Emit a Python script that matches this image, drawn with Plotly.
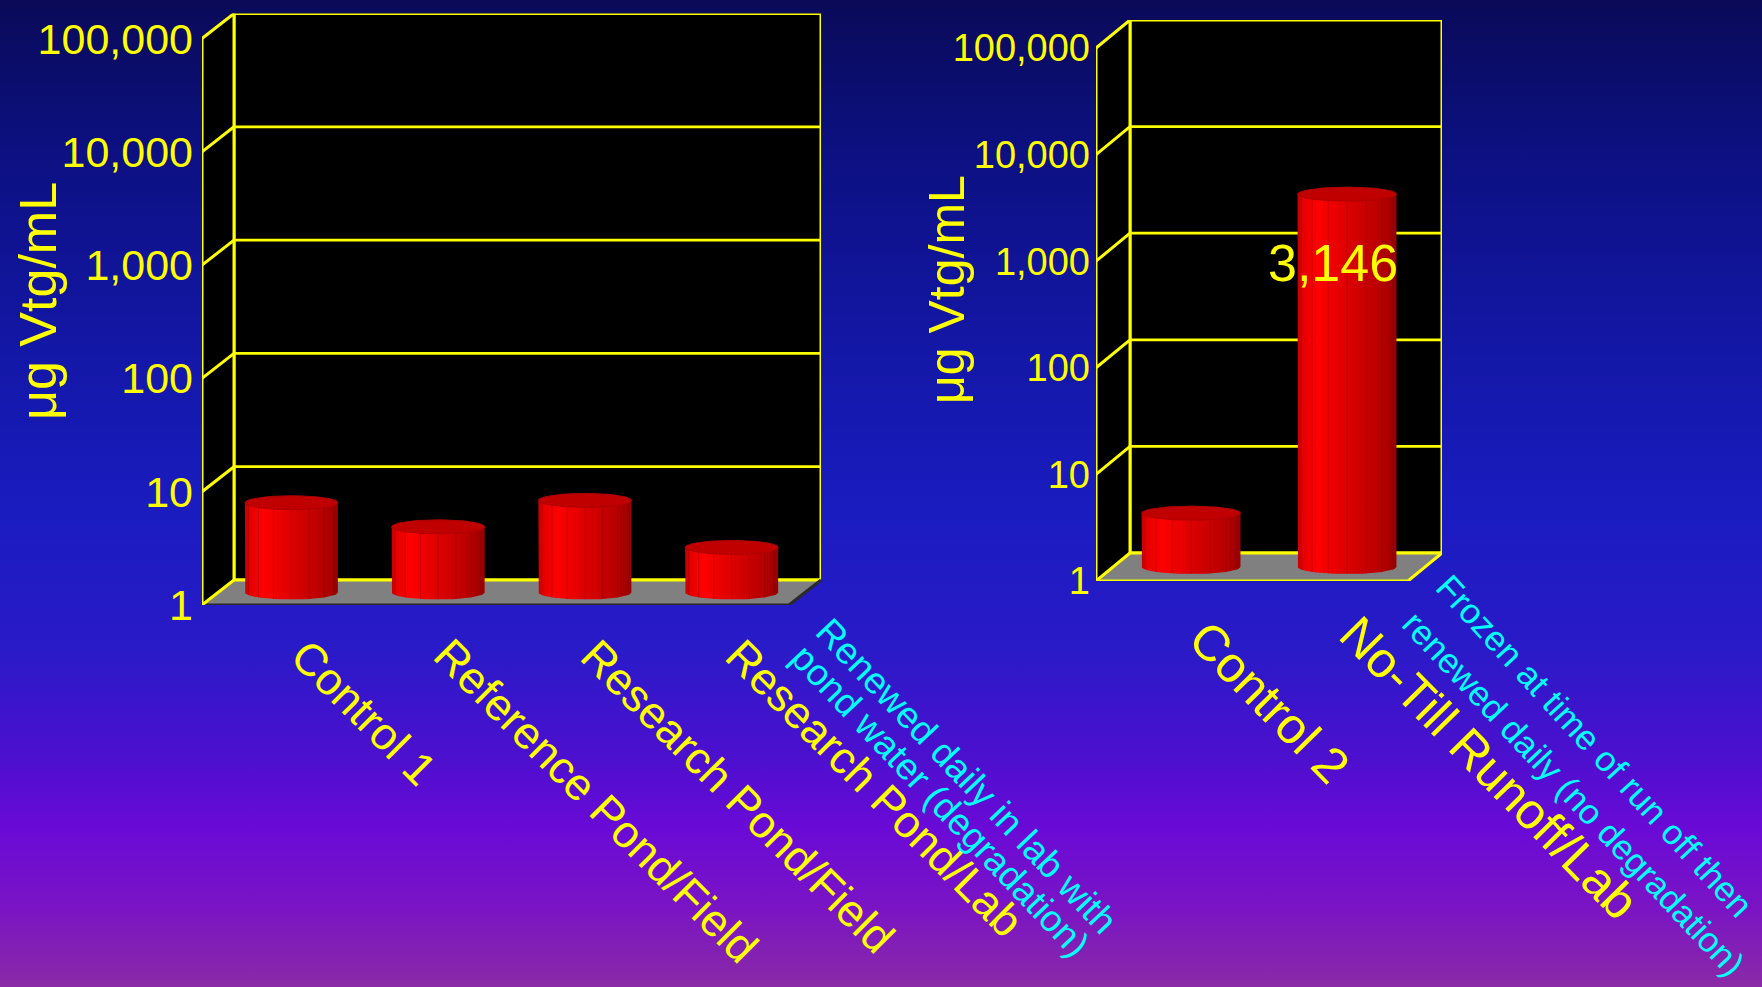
import numpy as np
import plotly.graph_objects as go

W, H = 1762, 987
FONT = "Liberation Sans, Arial, sans-serif"
YELLOW = "#ffff00"
CYAN = "#00ffff"

# ---- data -------------------------------------------------------------
left_categories = ["Control 1", "Reference Pond/Field", "Research Pond/Field", "Research Pond/Lab"]
left_values = [6.2, 3.8, 6.5, 2.5]
right_categories = ["Control 2", "No-Till Runoff/Lab"]
right_values = [3.2, 3146]
tick_values = [1, 10, 100, 1000, 10000, 100000]
tick_labels = ["1", "10", "100", "1,000", "10,000", "100,000"]
left_note = ["Renewed daily in lab with", "pond water (degradation)"]
right_note = ["Frozen at time of run off then", "renewed daily (no degradation)"]
y_title = "μg Vtg/mL"

# ---- panel geometry (pixels) -------------------------------------------
panels = [
    dict(cats=left_categories, vals=left_values, x0=202, floor=605, cat_px=146.75,
         dec_px=113.3, dx=32, dy=25, back="2", front="3", mid="4",
         tick_size=43, standoff=8, floor_edge="#2a2a2a"),
    dict(cats=right_categories, vals=right_values, x0=1096, floor=581, cat_px=156,
         dec_px=106.6, dx=34, dy=28, back="5", front="6", mid="7",
         tick_size=38, standoff=5, floor_edge=YELLOW),
]

SIDE_SCALE = [[0, "#c40000"], [0.05, "#e40000"], [0.2, "#ff0000"], [0.55, "#d80000"],
              [0.85, "#b60000"], [1, "#980000"]]
TOP_COLOR = "#c00000"
BG_SCALE = [[0.0, "#8a2aa6"], [0.08, "#7a14c4"], [0.16, "#6a0ad6"], [0.24, "#4a10ce"],
            [0.34, "#2a1ac8"], [0.48, "#1a1cc0"], [0.68, "#1216a0"], [0.85, "#0c1080"],
            [1.0, "#0a0a58"]]

fig = go.Figure()
layout_axes = {}

# background gradient on a full-page axis pair
layout_axes["xaxis"] = dict(domain=[0, 1], range=[0, 1], visible=False, fixedrange=True)
layout_axes["yaxis"] = dict(domain=[0, 1], range=[0, 1], visible=False, fixedrange=True)
fig.add_trace(go.Scatter(x=[0, 1, 1, 0, 0], y=[0, 0, 1, 1, 0], mode="lines", fill="toself",
                         fillgradient=dict(type="vertical", colorscale=BG_SCALE, start=0, stop=1),
                         line=dict(width=0), hoverinfo="skip", showlegend=False,
                         xaxis="x", yaxis="y"))


def line(xs, ys, xa, ya, color, width):
    fig.add_trace(go.Scatter(x=xs, y=ys, mode="lines", line=dict(color=color, width=width),
                             hoverinfo="skip", showlegend=False, xaxis=xa, yaxis=ya))


def poly(xs, ys, xa, ya, color=None, gradient=None, lw=0, lc=None):
    kw = dict(fillgradient=gradient) if gradient else dict(fillcolor=color)
    fig.add_trace(go.Scatter(x=xs, y=ys, mode="lines", fill="toself",
                             line=dict(width=lw, color=lc or "rgba(0,0,0,0)"),
                             hoverinfo="skip", showlegend=False, xaxis=xa, yaxis=ya, **kw))


for p in panels:
    n = len(p["cats"])
    DX = p["dx"] / p["cat_px"]          # depth offset, category units
    DY = p["dy"] / p["dec_px"]          # depth offset, decades
    top_log = np.log10(tick_values[-1])
    width_px = n * p["cat_px"] + p["dx"]
    height_px = top_log * p["dec_px"] + p["dy"]
    xdom = [p["x0"] / W, (p["x0"] + width_px) / W]
    ydom = [1 - p["floor"] / H, 1 - (p["floor"] - height_px) / H]
    b, f, m = p["back"], p["front"], p["mid"]

    # back plane (base), front plane and mid plane share the box, shifted by depth
    layout_axes["xaxis" + b] = dict(domain=xdom, range=[-0.5 - DX, n - 0.5], visible=False,
                                    anchor="y" + b, fixedrange=True)
    layout_axes["yaxis" + b] = dict(domain=ydom, type="log", range=[-DY, top_log], visible=False,
                                    anchor="x" + b, fixedrange=True)
    layout_axes["xaxis" + f] = dict(domain=xdom, range=[-0.5, n - 0.5 + DX], visible=False,
                                    anchor="y" + f, overlaying="x" + b, fixedrange=True)
    layout_axes["yaxis" + f] = dict(domain=ydom, type="log", range=[0, top_log + DY],
                                    anchor="x" + f, overlaying="y" + b, fixedrange=True,
                                    tickvals=tick_values, ticktext=tick_labels, ticks="",
                                    ticklabelstandoff=p["standoff"], automargin=False,
                                    tickfont=dict(family=FONT, size=p["tick_size"], color=YELLOW),
                                    showgrid=False, zeroline=False, showline=False)
    layout_axes["xaxis" + m] = dict(domain=xdom, range=[-0.5 - DX / 2, n - 0.5 + DX / 2],
                                    visible=False, anchor="y" + m, overlaying="x" + b,
                                    fixedrange=True)
    layout_axes["yaxis" + m] = dict(domain=ydom, type="log", range=[-DY / 2, top_log + DY / 2],
                                    visible=False, anchor="x" + m, overlaying="y" + b,
                                    fixedrange=True)

    xb, yb = "x" + b, "y" + b
    xf, yf = "x" + f, "y" + f
    xm, ym = "x" + m, "y" + m

    # back wall with grid
    poly([-0.5, n - 0.5, n - 0.5, -0.5, -0.5], [1, 1, 1e5, 1e5, 1], xb, yb,
         color="#000000", lw=3, lc=YELLOW)
    gx, gy = [], []
    for v in tick_values[1:-1]:
        gx += [-0.5, n - 0.5, None]
        gy += [v, v, None]
    line(gx, gy, xb, yb, YELLOW, 2.8)

    # side wall and floor (front-plane coordinates)
    sh = 10 ** DY
    poly([-0.5, -0.5, -0.5 + DX, -0.5 + DX, -0.5],
         [1, 1e5, 1e5 * sh, sh, 1], xf, yf, color="#000000")
    poly([-0.5, n - 0.5, n - 0.5 + DX, -0.5 + DX, -0.5], [1, 1, sh, sh, 1], xf, yf,
         color="#808080")
    line([-0.5 + DX, n - 0.5 + DX], [sh, sh], xf, yf, YELLOW, 3)
    line([-0.5 + DX, -0.5 + DX], [sh, 1e5 * sh], xf, yf, YELLOW, 3)
    line([-0.5, n - 0.5, n - 0.5 + DX], [1, 1, sh], xf, yf, p["floor_edge"], 3)
    dxs, dys = [], []
    for v in tick_values:
        dxs += [-0.5, -0.5 + DX, None]
        dys += [v, v * sh, None]
    line(dxs, dys, xf, yf, YELLOW, 3)
    line([-0.5, -0.5], [1, 1e5], xf, yf, YELLOW, 3)

    # cylinders on the mid plane
    a = 0.317
    ry = 7.0 / p["dec_px"]
    t_front = np.linspace(np.pi, 2 * np.pi, 49)
    t_full = np.linspace(0, 2 * np.pi, 97)
    for i, v in enumerate(p["vals"]):
        bx = [i - a] + list(i + a * np.cos(t_front)) + [i + a, i - a]
        by = [v] + list(10 ** (ry * np.sin(t_front))) + [v, v]
        poly(bx, by, xm, ym,
             gradient=dict(type="horizontal", colorscale=SIDE_SCALE, start=i - a, stop=i + a))
        fx, fy = [], []
        for k in range(1, 8):
            th = np.pi + k * np.pi / 8
            off = 10 ** (ry * np.sin(th))
            fx += [i + a * np.cos(th), i + a * np.cos(th), None]
            fy += [off, v * off, None]
        line(fx, fy, xm, ym, "rgba(120,0,0,0.35)", 1)
        poly(list(i + a * np.cos(t_full)), list(v * 10 ** (ry * np.sin(t_full))), xm, ym,
             color=TOP_COLOR, lw=1, lc="#b00000")


# ---- text ---------------------------------------------------------------
def P(px, py):
    return px / W, 1 - py / H


annotations = []


def text(s, px, py, size, color, angle=0):
    x, y = P(px, py)
    annotations.append(dict(text=s, x=x, y=y, xref="paper", yref="paper", showarrow=False,
                            xanchor="center", yanchor="middle", textangle=angle,
                            font=dict(family=FONT, size=size, color=color)))


text(y_title, 38, 301, 52, YELLOW, -90)
text(y_title, 947, 290, 50, YELLOW, -90)

left_label_pos = [(364, 712), (596, 800), (738, 796), (875, 788)]
for s, (px, py) in zip(left_categories, left_label_pos):
    text(s, px, py, 45, YELLOW, 45)
right_label_pos = [(1269, 702), (1489, 768)]
for s, (px, py) in zip(right_categories, right_label_pos):
    text(s, px, py, 50, YELLOW, 45.5)

text(left_note[0], 967, 776, 37, CYAN, 46.5)
text(left_note[1], 940, 800, 37, CYAN, 46.5)
text(right_note[0], 1595, 745, 35, CYAN, 47.5)
text(right_note[1], 1574, 793, 35, CYAN, 47)

text(f"{right_values[1]:,}", 1333, 263, 52, YELLOW)

fig.update_layout(
    width=W, height=H, autosize=False,
    margin=dict(l=0, r=0, t=0, b=0, pad=0, autoexpand=False),
    paper_bgcolor="#1414a0", plot_bgcolor="rgba(0,0,0,0)",
    showlegend=False, annotations=annotations,
    **layout_axes,
)

fig.write_html("out.html", config=dict(displayModeBar=False, staticPlot=True))
